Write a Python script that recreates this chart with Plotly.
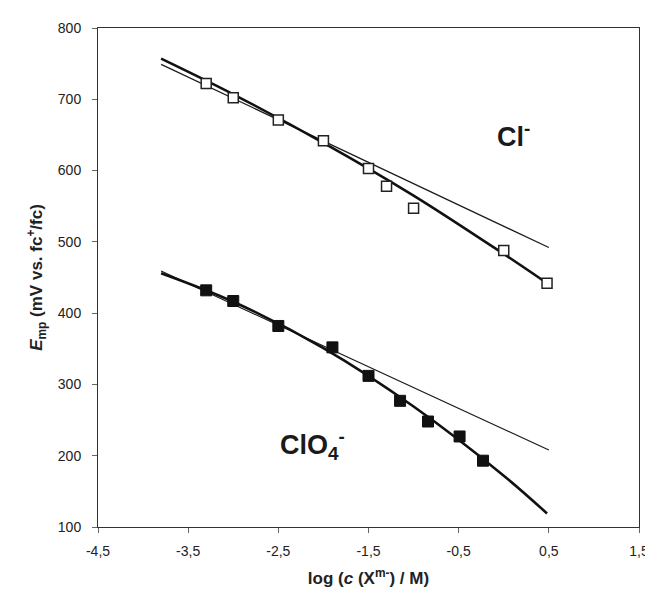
import plotly.graph_objects as go

# Measured data points
cl_x = [-3.3, -3.0, -2.5, -2.0, -1.5, -1.3, -1.0, 0.0, 0.48]
cl_y = [722, 702, 671, 642, 603, 578, 547, 488, 442]

clo4_x = [-3.3, -3.0, -2.5, -1.9, -1.5, -1.15, -0.84, -0.49, -0.23]
clo4_y = [432, 417, 382, 352, 312, 277, 248, 227, 193]

# Thin straight (linear) lines, endpoints
cl_lin_x = [-3.8, 0.5]
cl_lin_y = [749, 492]
clo4_lin_x = [-3.8, 0.5]
clo4_lin_y = [459, 208]

# Thick curved fits
cl_fit_x = [-3.8, -3.0, -2.0, -1.0, 0.0, 0.48]
cl_fit_y = [757, 707, 639, 565, 483, 442]
clo4_fit_x = [-3.8, -3.0, -2.0, -1.0, 0.0, 0.48]
clo4_fit_y = [456, 416, 351, 269, 172, 119]

x_ticks = [-4.5, -3.5, -2.5, -1.5, -0.5, 0.5, 1.5]
x_tick_text = ["-4,5", "-3,5", "-2,5", "-1,5", "-0,5", "0,5", "1,5"]
y_ticks = [100, 200, 300, 400, 500, 600, 700, 800]

FONT = "Liberation Sans, Arial"

fig = go.Figure()
fig.add_trace(go.Scatter(x=cl_lin_x, y=cl_lin_y, mode="lines",
                         line=dict(color="#1a1a1a", width=1.2), showlegend=False))
fig.add_trace(go.Scatter(x=cl_fit_x, y=cl_fit_y, mode="lines", line_shape="spline",
                         line=dict(color="#111111", width=2.6), showlegend=False))
fig.add_trace(go.Scatter(x=clo4_lin_x, y=clo4_lin_y, mode="lines",
                         line=dict(color="#1a1a1a", width=1.2), showlegend=False))
fig.add_trace(go.Scatter(x=clo4_fit_x, y=clo4_fit_y, mode="lines", line_shape="spline",
                         line=dict(color="#111111", width=2.6), showlegend=False))
fig.add_trace(go.Scatter(x=cl_x, y=cl_y, mode="markers",
                         marker=dict(symbol="square", size=10, color="white",
                                     line=dict(color="#222222", width=1.5)),
                         showlegend=False))
fig.add_trace(go.Scatter(x=clo4_x, y=clo4_y, mode="markers",
                         marker=dict(symbol="square", size=11, color="#111111",
                                     line=dict(color="#111111", width=1)),
                         showlegend=False))

fig.add_annotation(x=-0.1, y=650, text="<b>Cl<sup>-</sup></b>", showarrow=False,
                   font=dict(family=FONT, size=27, color="#1a1a1a"),
                   xanchor="left", yanchor="middle")
fig.add_annotation(x=-2.5, y=215, text="<b>ClO<sub>4</sub><sup>-</sup></b>", showarrow=False,
                   font=dict(family=FONT, size=27, color="#1a1a1a"),
                   xanchor="left", yanchor="middle")

axis_common = dict(showgrid=False, zeroline=False, showline=True, linecolor="#333333",
                   linewidth=1, mirror=True, ticks="outside", ticklen=5,
                   tickcolor="#666666",
                   tickfont=dict(family=FONT, size=14, color="#222222"))

fig.update_layout(
    width=653, height=590,
    margin=dict(l=90, r=14, t=20, b=71),
    paper_bgcolor="white", plot_bgcolor="white",
    xaxis=dict(range=[-4.5, 1.5], tickvals=x_ticks, ticktext=x_tick_text,
               ticklabelstandoff=6,
               title=dict(text="<b>log (<i>c</i> (X<sup>m-</sup>) / M)</b>",
                          font=dict(family=FONT, size=17, color="#222222"),
                          standoff=14),
               **axis_common),
    yaxis=dict(range=[100, 800], tickvals=y_ticks,
               ticklabelstandoff=8,
               title=dict(text="<b><i>E</i><sub>mp</sub> (mV vs. fc<sup>+</sup>/fc)</b>",
                          font=dict(family=FONT, size=17, color="#222222"),
                          standoff=10),
               **axis_common),
)

fig.write_html("out.html")
